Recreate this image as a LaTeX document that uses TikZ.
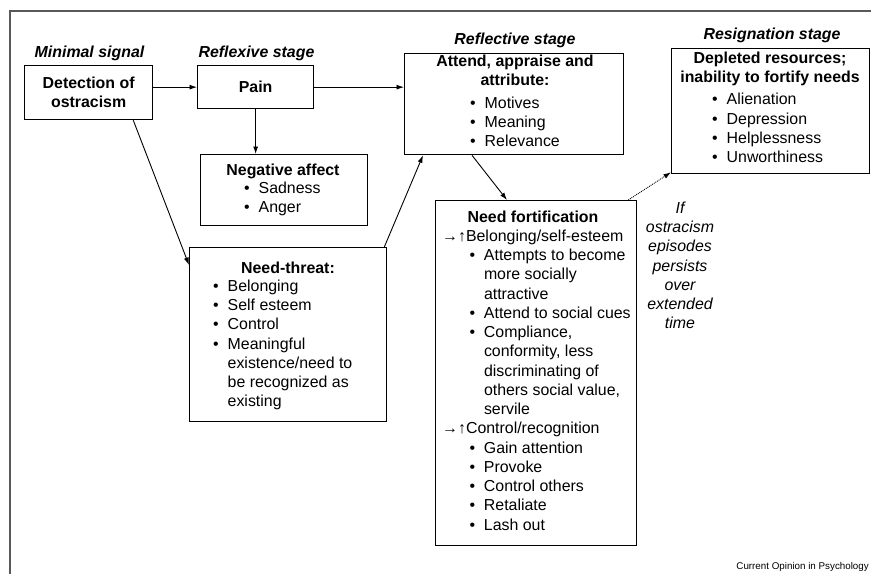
\documentclass[tikz,border=0pt]{standalone}
\usepackage{fontspec}
\setmainfont{Liberation Sans}
\usepackage{tikz}
\usetikzlibrary{arrows.meta}

\newcommand{\nsz}{\fontsize{15.9}{19.25}\selectfont}
\newcommand{\bul}{\makebox[14.5pt][l]{\textbullet}}
\newcommand{\ind}{\hspace*{14.5pt}}
\newcommand{\sub}{\hspace*{27.3pt}}
\newcommand{\incr}{→↑}

\begin{document}
\begin{tikzpicture}[x=1pt,y=-1pt]
	\tikzstyle{box}=[draw=black,line width=1.3pt,inner sep=0pt,anchor=north west,font=\nsz\bfseries,align=center]
	\tikzstyle{stage}=[font=\nsz\bfseries\itshape,inner sep=0pt,anchor=base]
	\tikzstyle{ttl}=[font=\nsz\bfseries,inner sep=0pt,anchor=north,yshift=13.475pt,execute at begin node=\strut,align=center]
	\tikzstyle{lst}=[font=\nsz,inner sep=0pt,anchor=north west,yshift=13.475pt,execute at begin node=\strut,align=left]
	\tikzstyle{note}=[font=\nsz\itshape,inner sep=0pt,anchor=north,yshift=13.475pt,execute at begin node=\strut,align=center]
	\tikzstyle{arr}=[-{Latex[length=7.5pt,width=5pt]},line width=0.9pt]
	\useasboundingbox (0,0) rectangle (871,574);
	\draw[gray!70!black,line width=1.5pt] (871,11) -- (10,11) -- (10,574);
	% stage labels
	\node[stage] (minlab) at (89.5,57) {Minimal signal};
	\node[stage] (reflexlab) at (256.5,57) {Reflexive stage};
	\node[stage] (reflectlab) at (515,44) {Reflective stage};
	\node[stage] (resignlab) at (772,39) {Resignation stage};
	% boxes
	\node[box,minimum width=128,minimum height=54] (detect) at (24,65) {Detection of\\ostracism};
	\node[box,minimum width=116,minimum height=43] (pain) at (197,65) {Pain};
	\node[box,minimum width=167,minimum height=71] (negaff) at (200,154) {};
	\node[box,minimum width=197,minimum height=174] (needthreat) at (189,247) {};
	\node[box,minimum width=219,minimum height=101] (attend) at (404,53) {};
	\node[box,minimum width=198,minimum height=125] (depleted) at (671,48) {};
	\node[box,minimum width=201,minimum height=345] (needfort) at (435,200) {};
	% box texts
	\node[ttl] (negaff-t) at (283,175) {Negative affect};
	\node[lst] (negaff-l) at (244,195) {\bul Sadness\\\bul Anger};
	\node[ttl] (needthreat-t) at (288,273) {Need-threat:};
	\node[lst] (needthreat-l) at (213,293) {\bul Belonging\\\bul Self esteem\\\bul Control\\\bul Meaningful\\\ind existence/need to\\\ind be recognized as\\\ind existing};
	\node[ttl] (attend-t) at (515,68) {Attend, appraise and\\attribute:};
	\node[lst] (attend-l) at (470,110) {\bul Motives\\\bul Meaning\\\bul Relevance};
	\node[ttl] (depleted-t) at (770,65) {Depleted resources;\\inability to fortify needs};
	\node[lst] (depleted-l) at (712,106.5) {\bul Alienation\\\bul Depression\\\bul Helplessness\\\bul Unworthiness};
	\node[ttl] (needfort-t) at (533,222) {Need fortification};
	\node[lst] (needfort-l) at (442,243) {\incr Belonging/self-esteem\\
		\sub\bul Attempts to become\\\sub\ind more socially\\\sub\ind attractive\\
		\sub\bul Attend to social cues\\
		\sub\bul Compliance,\\\sub\ind conformity, less\\\sub\ind discriminating of\\\sub\ind others social value,\\\sub\ind servile\\
		\incr Control/recognition\\
		\sub\bul Gain attention\\\sub\bul Provoke\\\sub\bul Control others\\\sub\bul Retaliate\\\sub\bul Lash out};
	\node[note] (note) at (680,215) {If\\ostracism\\episodes\\persists\\over\\extended\\time};
	\node[font=\fontsize{9.8}{12}\selectfont,inner sep=0pt,anchor=base east] (credit) at (869,569) {Current Opinion in Psychology};
	% connectors
	\draw[arr] (detect.east |- pain.west) -- (pain.west);
	\draw[arr] (pain.east) -- (pain.east -| attend.west);
	\draw[arr] (pain.south) -- (pain.south |- negaff.north);
	\draw[arr] ([xshift=-20pt]detect.south east) -- ([yshift=-18pt]needthreat.north west);
	\draw[arr] ([xshift=-3pt]needthreat.north east) -- ([xshift=19pt]attend.south west);
	\draw[arr] ([xshift=68pt]attend.south west) -- ([xshift=72pt]needfort.north west);
	\draw[arr,densely dotted] ([xshift=-9pt]needfort.north east) -- ([yshift=2pt]depleted.south west);
\end{tikzpicture}
\end{document}
